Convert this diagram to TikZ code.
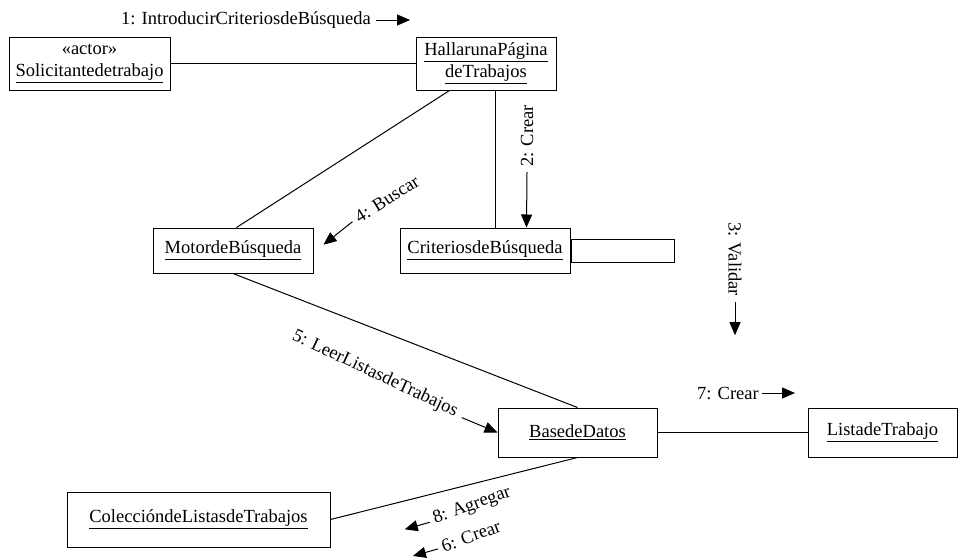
\documentclass[tikz,border=0pt]{standalone}
\usepackage{fontspec}
\setmainfont{Liberation Serif}
\usetikzlibrary{arrows.meta,calc}
\begin{document}
\begin{tikzpicture}[x=1pt,y=-1pt,
  obj/.style={draw, line width=1pt, inner sep=0pt, align=center, font=\fontsize{18.5}{22}\selectfont},
  lbl/.style={inner sep=1pt, font=\fontsize{18.5}{22}\selectfont},
  link/.style={line width=1pt},
  msg/.style={line width=1pt, -{Triangle[length=13pt,width=11pt]}}]
\useasboundingbox (0,0) rectangle (958,558);
% objects
\node[obj, minimum width=161pt, minimum height=53pt] (sol) at (89.5,63.5) {«actor»\\\underline{Solicitantedetrabajo}};
\node[obj, minimum width=140pt, minimum height=53pt] (hal) at (486,63.5) {\underline{HallarunaPágina}\\\underline{deTrabajos}};
\node[obj, minimum width=160pt, minimum height=45pt] (mot) at (233,250.5) {\underline{MotordeBúsqueda}};
\node[obj, minimum width=170pt, minimum height=45pt] (cri) at (485,250.5) {\underline{CriteriosdeBúsqueda}};
\node[draw, line width=1pt, inner sep=0pt, minimum width=103pt, minimum height=23pt, anchor=west] (crx) at (cri.east) {};
\node[obj, minimum width=159pt, minimum height=49pt] (bas) at (577.5,432.5) {\underline{BasedeDatos}};
\node[obj, minimum width=149pt, minimum height=49pt] (lis) at (882.5,432.5) {\underline{ListadeTrabajo}};
\node[obj, minimum width=263pt, minimum height=55pt] (col) at (198.5,519.5) {\underline{ColeccióndeListasdeTrabajos}};
% links
\draw[link] (sol.east) -- (hal.west);
\draw[link] ($(hal.south west)+(34,0)$) -- ($(mot.north west)+(84,0)$);
\draw[link] ($(hal.south west)+(80,0)$) -- ($(cri.north west)+(96,0)$);
\draw[link] (mot.south) -- (bas.north);
\draw[link] (bas.east) -- (lis.west);
\draw[link] (col.east) -- (bas.south);
% messages
\node[lbl] (m1) at (246,20) {1: IntroducirCriteriosdeBúsqueda};
\draw[msg] ($(m1.east)+(4,0)$) -- ++(34,0);
\node[lbl, rotate=90] (m2) at (527,136) {2: Crear};
\draw[msg] ($(m2.west)+(0,4)$) -- ($(cri.north west)+(127,0)$);
\node[lbl, rotate=32] (m4) at (387,199) {4: Buscar};
\draw[msg] ($(m4.west)+(-3,3)$) -- ++(-29,23);
\node[lbl, rotate=-90] (m3) at (735,259) {3: Validar};
\draw[msg] ($(m3.east)+(0,5)$) -- ++(0,33);
\node[lbl, rotate=-25] (m5) at (375,374) {5: LeerListasdeTrabajos};
\draw[msg] ($(m5.east)+(4,5)$) -- (bas.west);
\node[lbl] (m7) at (728,393) {7: Crear};
\draw[msg] ($(m7.east)+(2,0)$) -- ++(33,0);
\node[lbl, rotate=20] (m8) at (472,506) {8: Agregar};
\draw[msg] ($(m8.west)+(-3,2)$) -- ++(-25,7);
\node[lbl, rotate=20] (m6) at (471,536) {6: Crear};
\draw[msg] ($(m6.west)+(-3,2)$) -- ++(-25,7);
\end{tikzpicture}
\end{document}
